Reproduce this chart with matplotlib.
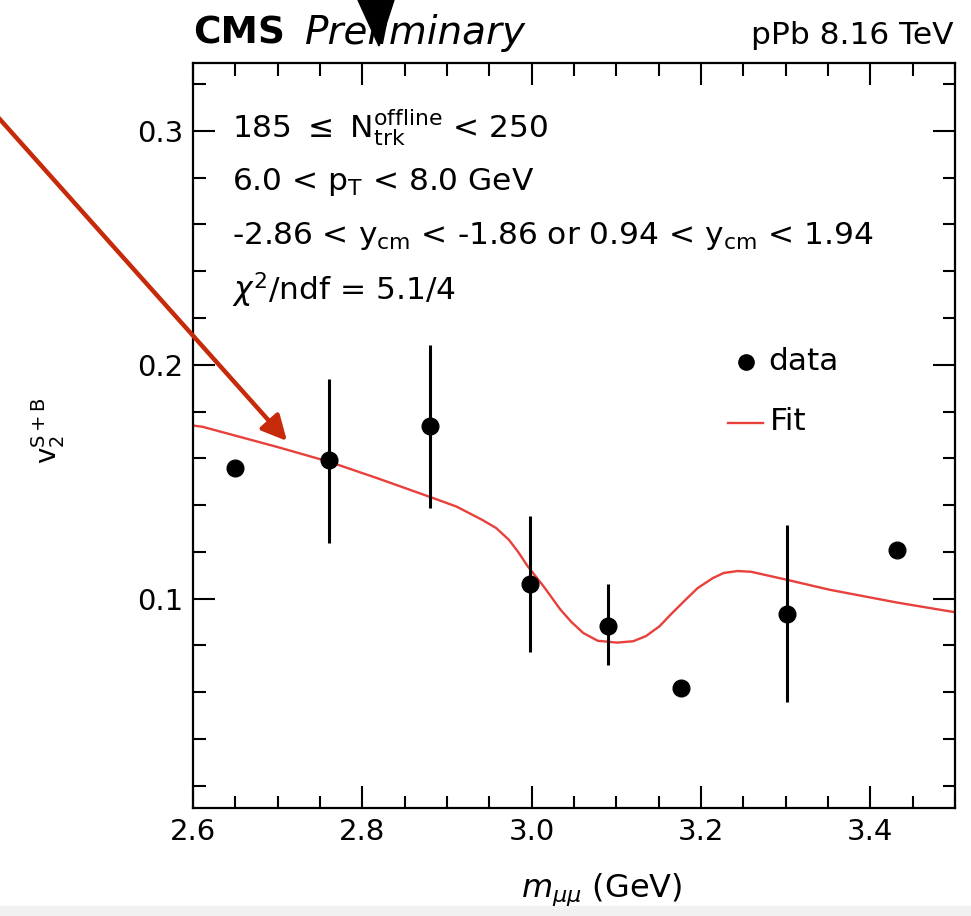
import numpy as np
import matplotlib.pyplot as plt
from matplotlib.patches import Polygon, Rectangle
from matplotlib.lines import Line2D
from matplotlib.ticker import MultipleLocator

plt.rcParams['font.family'] = ['DejaVu Sans']
plt.rcParams['mathtext.fontset'] = 'dejavusans'

# data points (v2 S+B vs dimuon mass)
mass = [2.650, 2.761, 2.880, 2.998, 3.090, 3.176, 3.301, 3.431]
v2 = [0.1559, 0.1594, 0.1736, 0.1064, 0.0885, 0.0618, 0.0935, 0.1206]
err_up = [0.0, 0.0346, 0.0349, 0.0290, 0.0178, 0.0, 0.0378, 0.0]
err_down = [0.0, 0.0356, 0.0349, 0.0292, 0.0170, 0.0, 0.0378, 0.0]

# fit curve
fit_mass = [2.600, 2.611, 2.700, 2.761, 2.820, 2.879, 2.911, 2.941, 2.958,
            2.973, 2.984, 2.995, 3.014, 3.034, 3.047, 3.061, 3.078, 3.101,
            3.120, 3.135, 3.151, 3.165, 3.182, 3.196, 3.214, 3.227, 3.243,
            3.259, 3.301, 3.352, 3.432, 3.500]
fit_v2 = [0.1740, 0.1735, 0.1648, 0.1585, 0.1512, 0.1436, 0.1394, 0.1338,
          0.1302, 0.1252, 0.1200, 0.1140, 0.1053, 0.0953, 0.0900, 0.0853,
          0.0820, 0.0812, 0.0818, 0.0840, 0.0882, 0.0935, 0.0996, 0.1045,
          0.1088, 0.1110, 0.1118, 0.1115, 0.1081, 0.1038, 0.0983, 0.0942]

W, H = 971, 916
fig = plt.figure(figsize=(W / 100, H / 100), dpi=100)
fig.add_artist(Rectangle((0, 0), 1, 10 / H, color='#f1f1f1', transform=fig.transFigure))
ax = fig.add_axes([193 / W, 1 - 808 / H, (955 - 193) / W, (808 - 63) / H])

red = '#e8403a'
ax.plot(fit_mass, fit_v2, color=red, lw=1.7, zorder=2)
ax.errorbar(mass, v2, yerr=[err_down, err_up], fmt='o', color='black',
            ms=12, elinewidth=2.2, capsize=0, zorder=3)

ax.set_xlim(2.6, 3.5)
ax.set_ylim(0.0105, 0.329)
ax.xaxis.set_major_locator(MultipleLocator(0.2))
ax.xaxis.set_minor_locator(MultipleLocator(0.05))
ax.yaxis.set_major_locator(MultipleLocator(0.1))
ax.yaxis.set_minor_locator(MultipleLocator(0.02))
ax.xaxis.set_major_formatter(lambda v, p: f"{v:.1f}")
ax.yaxis.set_major_formatter(lambda v, p: f"{v:.1f}")
ax.tick_params(which='both', direction='in', top=True, right=True, width=1.5,
               labelsize=21, colors='black')
ax.tick_params(which='major', length=16, pad=7)
ax.tick_params(which='minor', length=9)
for s in ax.spines.values():
    s.set_linewidth(1.6)

fig.text(602 / W, 1 - 890 / H, r"$m_{\mu\mu}$ (GeV)", fontsize=23,
         ha='center', va='center')
fig.text(48 / W, 1 - 431 / H, r"v$_2^{\mathrm{S+B}}$", rotation=90, fontsize=20,
         ha='center', va='center')

# cut labels
lines = [r"185 $\leq$ N$_{\mathrm{trk}}^{\mathrm{offline}}$ < 250",
         r"6.0 < p$_\mathrm{T}$ < 8.0 GeV",
         r"-2.86 < y$_{\mathrm{cm}}$ < -1.86 or 0.94 < y$_{\mathrm{cm}}$ < 1.94",
         r"$\chi^2$/ndf = 5.1/4"]
for i, t in enumerate(lines):
    fig.text(232 / W, 1 - (128 + 54 * i) / H, t, fontsize=22.5, va='center')

fig.text(193 / W, 1 - 33 / H, "CMS", fontsize=27, fontweight='bold', va='center')
fig.text(305 / W, 1 - 33 / H, "Preliminary", fontsize=28, style='italic', va='center')
fig.text(953 / W, 1 - 35 / H, "pPb 8.16 TeV", fontsize=22.5, ha='right', va='center')

# legend
fig.add_artist(Line2D([746 / W], [1 - 362 / H], marker='o', color='black', ms=11,
                      transform=fig.transFigure))
fig.text(768 / W, 1 - 362 / H, "data", fontsize=22.5, va='center')
fig.add_artist(Line2D([728 / W, 763 / W], [1 - 423 / H] * 2, color=red, lw=1.7,
                      transform=fig.transFigure))
fig.text(770 / W, 1 - 421 / H, "Fit", fontsize=22.5, va='center')

# overlay annotations
fig.add_artist(Polygon([[358 / W, 1.0], [394 / W, 1.0], [379 / W, 1 - 46 / H]],
                       closed=True, color='black', transform=fig.transFigure))
ax.annotate("", xy=(287 / W, 1 - 441 / H), xytext=(-20 / W, 1 - 97 / H),
            xycoords='figure fraction', textcoords='figure fraction',
            arrowprops=dict(arrowstyle='-|>', color='#c62a0a', lw=3.2,
                            mutation_scale=38, shrinkA=0, shrinkB=0))

fig.savefig("out.png", dpi=100)
